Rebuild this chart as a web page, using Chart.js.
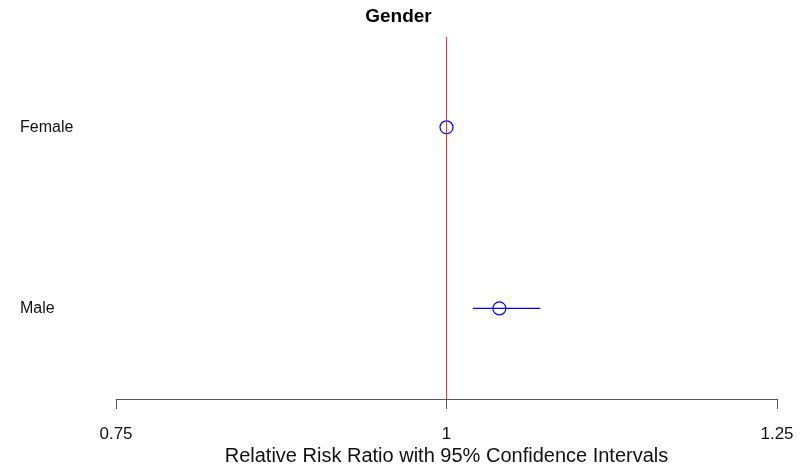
<!DOCTYPE html>
<html>
<head>
<meta charset="utf-8">
<title>Gender</title>
<script src="https://cdn.jsdelivr.net/npm/chart.js@4/dist/chart.umd.min.js"></script>
<style>
  html, body { margin: 0; padding: 0; background: #ffffff; }
  #wrap { width: 809px; height: 470px; }
</style>
</head>
<body>
<div id="wrap"><canvas id="chart" width="809" height="470"></canvas></div>
<script>
// Forest plot rows: relative risk ratio with 95% confidence interval
const categories = ['Female', 'Male'];
const estimates  = [1.000, 1.040];
const lowerCI    = [1.000, 1.020];
const upperCI    = [1.000, 1.071];
const xTicks     = [0.75, 1, 1.25];
const xTickLabels = ['0.75', '1', '1.25'];
const referenceValue = 1;

const FONT = '"Liberation Sans", Arial, Helvetica, sans-serif';
const rowY = i => categories.length - i;   // first category at the top

const datasets = [];

// vertical reference line at RR = 1
datasets.push({
  type: 'line',
  data: [{ x: referenceValue, y: 0.5 }, { x: referenceValue, y: categories.length + 0.5 }],
  borderColor: '#f03030',
  borderWidth: 1,
  pointRadius: 0,
  fill: false
});

// confidence interval whiskers
categories.forEach((c, i) => {
  datasets.push({
    type: 'line',
    data: [{ x: lowerCI[i], y: rowY(i) }, { x: upperCI[i], y: rowY(i) }],
    borderColor: '#0000ff',
    borderWidth: 1.3,
    pointRadius: 0,
    fill: false
  });
});

// point estimates
datasets.push({
  type: 'scatter',
  data: categories.map((c, i) => ({ x: estimates[i], y: rowY(i) })),
  pointStyle: 'circle',
  pointRadius: 6.5,
  borderColor: '#0000ff',
  borderWidth: 1.2,
  backgroundColor: 'rgba(0,0,0,0)'
});

new Chart(document.getElementById('chart'), {
  type: 'scatter',
  data: { datasets },
  options: {
    responsive: false,
    animation: false,
    layout: { padding: { left: 20, right: 32, top: 0, bottom: 0 } },
    plugins: {
      legend: { display: false },
      tooltip: { enabled: false },
      title: {
        display: true,
        text: 'Gender',
        color: '#000000',
        font: { family: FONT, size: 19, weight: 'bold' },
        padding: { top: 5, bottom: 9 }
      }
    },
    scales: {
      x: {
        type: 'linear',
        position: 'bottom',
        min: xTicks[0],
        max: xTicks[xTicks.length - 1],
        afterBuildTicks: s => { s.ticks = xTicks.map(v => ({ value: v })); },
        afterFit: s => { s.height = 71; },
        ticks: {
          color: '#111111',
          font: { family: FONT, size: 17 },
          padding: 15,
          maxRotation: 0,
          callback: v => xTickLabels[xTicks.indexOf(v)]
        },
        grid: {
          display: true,
          drawOnChartArea: false,
          drawTicks: true,
          tickLength: 10,
          color: '#555555',
          lineWidth: 1
        },
        border: { display: true, color: '#555555', width: 1 },
        title: {
          display: true,
          text: 'Relative Risk Ratio with 95% Confidence Intervals',
          color: '#111111',
          font: { family: FONT, size: 20 },
          padding: { top: 0, bottom: 2 }
        }
      },
      y: {
        type: 'linear',
        position: 'left',
        min: 0.5,
        max: categories.length + 0.5,
        afterBuildTicks: s => { s.ticks = categories.map((c, i) => ({ value: rowY(i) })); },
        afterFit: s => { s.width = 96; },
        ticks: {
          crossAlign: 'far',
          color: '#111111',
          font: { family: FONT, size: 16 },
          callback: v => categories[categories.length - v]
        },
        grid: { display: false },
        border: { display: false }
      }
    }
  }
});
</script>
</body>
</html>
